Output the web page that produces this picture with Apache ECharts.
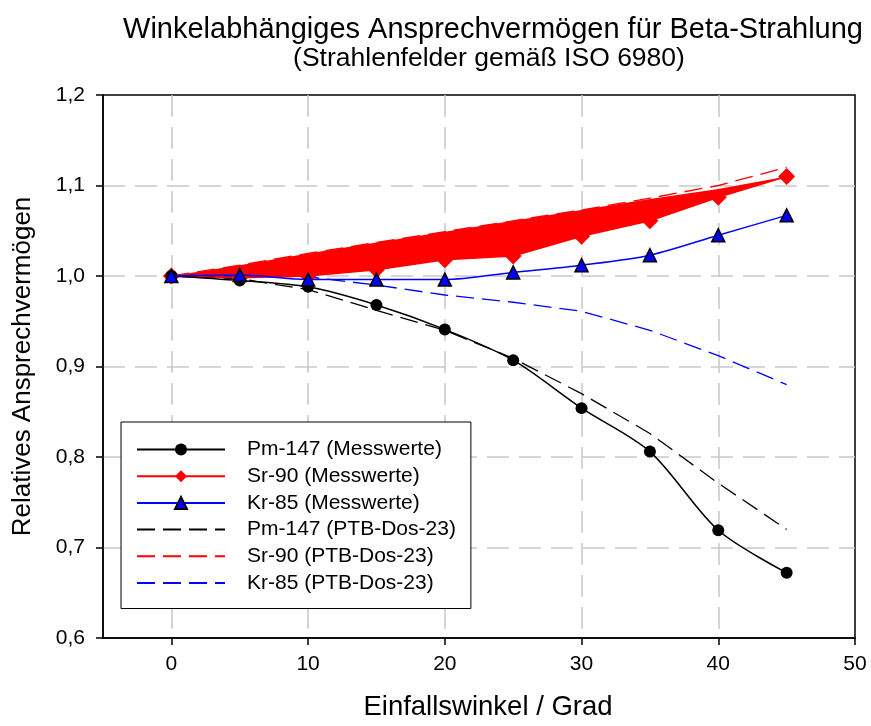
<!DOCTYPE html>
<html>
<head>
<meta charset="utf-8">
<script src="https://cdn.jsdelivr.net/npm/echarts@6/dist/echarts.min.js"></script>
<style>
html,body{margin:0;padding:0;background:#fff;}
#chart{width:871px;height:726px;}
</style>
</head>
<body>
<div id="chart"></div>
<script>
const angles = [0, 5, 10, 15, 20, 25, 30, 35, 40, 45];
const pm147Mess = [1.0, 0.995, 0.988, 0.968, 0.941, 0.907, 0.854, 0.806, 0.719, 0.672];
const sr90Mess  = [1.0, 0.998, 1.0, 1.007, 1.018, 1.022, 1.044, 1.061, 1.087, 1.110];
const kr85Mess  = [1.0, 1.001, 0.996, 0.996, 0.996, 1.004, 1.012, 1.023, 1.045, 1.067];
const pm147Ptb  = [1.0, 0.997, 0.985, 0.962, 0.940, 0.909, 0.870, 0.826, 0.771, 0.720];
const sr90Ptb   = [1.0, 1.012, 1.025, 1.037, 1.049, 1.061, 1.073, 1.086, 1.100, 1.120];
const kr85Ptb   = [1.0, 1.0, 0.999, 0.990, 0.979, 0.971, 0.961, 0.940, 0.912, 0.880];
const sr90FillTop = [1.0, 1.012, 1.025, 1.037, 1.049, 1.061, 1.073, 1.085, 1.096, 1.110];

const titleText = 'Winkelabhängiges Ansprechvermögen für Beta-Strahlung';
const subtitleText = '(Strahlenfelder gemäß ISO 6980)';
const xName = 'Einfallswinkel / Grad';
const yName = 'Relatives Ansprechvermögen';
const names = ['Pm-147 (Messwerte)', 'Sr-90 (Messwerte)', 'Kr-85 (Messwerte)',
               'Pm-147 (PTB-Dos-23)', 'Sr-90 (PTB-Dos-23)', 'Kr-85 (PTB-Dos-23)'];

const FONT = "'Liberation Sans', Arial, sans-serif";
const pairs = arr => angles.map((a, i) => [a, arr[i]]);
const dashPat = [18, 8];
// stacked band rows: value first so that the stacked dimension is y
const bandBase = angles.map((a, i) => [sr90Mess[i], a]);
const bandWidth = angles.map((a, i) => [+(sr90FillTop[i] - sr90Mess[i]).toFixed(4), a]);

const chart = echarts.init(document.getElementById('chart'), null, {renderer: 'canvas'});
chart.setOption({
  backgroundColor: '#fff',
  animation: false,
  title: [
    {text: titleText, left: 488, top: 10, textAlign: 'center',
     textStyle: {fontFamily: FONT, fontSize: 29, fontWeight: 'normal', color: '#000'}},
    {text: subtitleText, left: 484, top: 40, textAlign: 'center',
     textStyle: {fontFamily: FONT, fontSize: 26.5, fontWeight: 'normal', color: '#000'}}
  ],
  grid: {left: 103, right: 16, top: 95, bottom: 88, show: true, borderColor: '#000', borderWidth: 1.5, backgroundColor: 'transparent'},
  legend: {
    data: [
      {name: names[0]}, {name: names[1]}, {name: names[2]},
      {name: names[3], itemStyle: {opacity: 0}},
      {name: names[4], itemStyle: {opacity: 0}},
      {name: names[5], itemStyle: {opacity: 0}}
    ],
    orient: 'vertical',
    left: 121, top: 422,
    padding: [17, 15, 15, 15],
    itemWidth: 88, itemHeight: 15, itemGap: 5.7,
    backgroundColor: '#fff',
    borderColor: '#000', borderWidth: 1,
    textStyle: {fontFamily: FONT, fontSize: 21, color: '#000', lineHeight: 21, padding: [0, 0, 0, 17]}
  },
  xAxis: {
    type: 'value', min: -5, max: 50,
    name: xName, nameLocation: 'middle', nameGap: 55,
    nameTextStyle: {fontFamily: FONT, fontSize: 27.5, color: '#000', padding: [0, 0, 0, 18]},
    axisLine: {show: true, onZero: false, lineStyle: {color: '#000', width: 1.5}},
    axisTick: {show: true, length: 7, lineStyle: {color: '#000', width: 1.5}},
    axisLabel: {showMinLabel: false, margin: 16, fontFamily: FONT, fontSize: 21, color: '#000'},
    splitLine: {show: true, showMinLine: false, showMaxLine: false,
      lineStyle: {color: '#c8c8c8', width: 1.5, type: [22, 10]}}
  },
  yAxis: {
    type: 'value', min: 0.6, max: 1.2, interval: 0.1,
    name: yName, nameLocation: 'middle', nameGap: 67,
    nameTextStyle: {fontFamily: FONT, fontSize: 26, color: '#000'},
    axisLine: {show: true, onZero: false, lineStyle: {color: '#000', width: 1.5}},
    axisTick: {show: true, length: 7, lineStyle: {color: '#000', width: 1.5}},
    axisLabel: {margin: 18, fontFamily: FONT, fontSize: 21, color: '#000',
      formatter: v => v.toFixed(1).replace('.', ',')},
    splitLine: {show: true, showMinLine: false, showMaxLine: false,
      lineStyle: {color: '#c8c8c8', width: 1.5, type: [22, 10]}}
  },
  series: [
    {name: 'srBase', type: 'line', stack: 'srband', data: bandBase, encode: {x: 1, y: 0},
     symbol: 'none', silent: true, lineStyle: {width: 0, opacity: 0}, z: 1},
    {name: 'srBand', type: 'line', stack: 'srband', data: bandWidth, encode: {x: 1, y: 0},
     symbol: 'none', silent: true, lineStyle: {width: 0, opacity: 0},
     areaStyle: {color: '#ff0000', opacity: 1}, z: 1},
    {name: names[3], type: 'line', data: pairs(pm147Ptb), symbol: 'none',
     lineStyle: {color: '#000', width: 1.3, type: dashPat}, itemStyle: {color: '#000'}, z: 2},
    {name: names[4], type: 'line', data: pairs(sr90Ptb), symbol: 'none',
     lineStyle: {color: '#ff0000', width: 1.3, type: dashPat}, itemStyle: {color: '#ff0000'}, z: 2},
    {name: names[5], type: 'line', data: pairs(kr85Ptb), symbol: 'none',
     lineStyle: {color: '#0000ff', width: 1.3, type: dashPat}, itemStyle: {color: '#0000ff'}, z: 2},
    {name: names[1], type: 'line', data: pairs(sr90Mess), symbol: 'diamond', symbolSize: 17,
     lineStyle: {color: '#ff0000', width: 1.5}, itemStyle: {color: '#ff0000'}, z: 3},
    {name: names[0], type: 'line', data: pairs(pm147Mess), symbol: 'circle', symbolSize: 12, smooth: 0.3,
     lineStyle: {color: '#000', width: 1.5}, itemStyle: {color: '#000'}, z: 4},
    {name: names[2], type: 'line', data: pairs(kr85Mess), symbol: 'triangle', symbolSize: 13, smooth: 0.3,
     lineStyle: {color: '#0000ff', width: 1.5}, itemStyle: {color: '#0000ff', borderColor: '#000', borderWidth: 1.5}, z: 5}
  ]
});
</script>
</body>
</html>
